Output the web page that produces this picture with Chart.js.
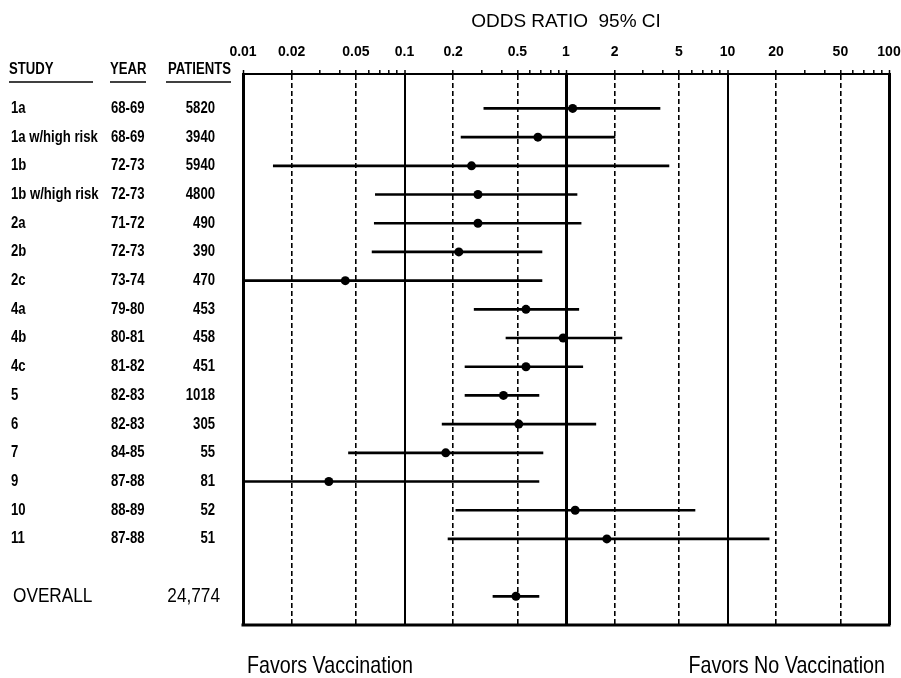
<!DOCTYPE html>
<html lang="en">
<head>
<meta charset="UTF-8">
<title>Odds ratio 95% CI</title>
<script src="https://cdn.jsdelivr.net/npm/chart.js@4.4.1/dist/chart.umd.min.js"></script>
<style>
  html, body { margin: 0; padding: 0; background: #fff; }
  #wrap { position: relative; width: 901px; height: 678px; }
</style>
</head>
<body>
<div id="wrap"><canvas id="forest"></canvas></div>
<script>
// rows of the table, top to bottom
const studies = ['1a', '1a w/high risk', '1b', '1b w/high risk', '2a', '2b', '2c', '4a', '4b', '4c', '5', '6', '7', '9', '10', '11']
const years = ['68-69', '68-69', '72-73', '72-73', '71-72', '72-73', '73-74', '79-80', '80-81', '81-82', '82-83', '82-83', '84-85', '87-88', '88-89', '87-88']
const patients = ['5820', '3940', '5940', '4800', '490', '390', '470', '453', '458', '451', '1018', '305', '55', '81', '52', '51']

// odds ratio and 95% CI
const oddsRatio = [1.10, 0.67, 0.26, 0.285, 0.285, 0.217, 0.043, 0.565, 0.96, 0.565, 0.41, 0.51, 0.18, 0.034, 1.14, 1.79]
const ciLow = [0.31, 0.224, 0.0154, 0.066, 0.065, 0.063, 0.01, 0.27, 0.425, 0.237, 0.237, 0.171, 0.045, 0.01, 0.208, 0.186]
const ciHigh = [3.82, 2.01, 4.34, 1.17, 1.24, 0.71, 0.71, 1.20, 2.22, 1.27, 0.68, 1.53, 0.72, 0.68, 6.29, 18.1]

const overallLabel = 'OVERALL'
const overallPatients = '24,774'
const overallOdds = [0.49]
const overallLow = [0.353]
const overallHigh = [0.68]

// axis ticks
const tickLabels = [0.01, 0.02, 0.05, 0.1, 0.2, 0.5, 1, 2, 5, 10, 20, 50, 100]
const minorTicks = [0.03, 0.04, 0.06, 0.07, 0.08, 0.09, 0.3, 0.4, 0.6, 0.7, 0.8, 0.9, 3, 4, 6, 7, 8, 9, 30, 40, 60, 70, 80, 90]
const solidLines = [0.1, 10]
const heavyLines = [0.01, 1, 100]

const OVERALL_ROW = studies.length + 1
const SANS = '"Liberation Sans", Arial, sans-serif'
const NARROW_X = 0.82 // no narrow face installed, so squeeze the sans one

const allTicks = tickLabels.concat(minorTicks).sort((a, b) => a - b)

const ciData = studies.map((s, i) => ({ x: [ciLow[i], ciHigh[i]], y: i }))
    .concat([{ x: [overallLow[0], overallHigh[0]], y: OVERALL_ROW }])
const orData = studies.map((s, i) => ({ x: oddsRatio[i], y: i }))
    .concat([{ x: overallOdds[0], y: OVERALL_ROW }])

function narrowText(ctx, text, x, y, align) {
    ctx.save()
    ctx.translate(x, y)
    ctx.scale(NARROW_X, 1)
    ctx.textAlign = align
    ctx.fillText(text, 0, 0)
    ctx.restore()
}

// table on the left, bottom frame line and the two footer captions
const tablePlugin = {
    id: 'table',
    afterDraw(chart) {
        const { ctx, chartArea } = chart
        const y = chart.scales.y
        ctx.save()
        ctx.fillStyle = '#000'
        ctx.strokeStyle = '#000'

        ctx.lineWidth = 3
        ctx.beginPath()
        ctx.moveTo(chartArea.left - 1.5, chartArea.bottom)
        ctx.lineTo(chartArea.right + 1.5, chartArea.bottom)
        ctx.stroke()

        ctx.textBaseline = 'middle'
        ctx.font = 'bold 16px ' + SANS
        narrowText(ctx, 'STUDY', 9, 70, 'left')
        narrowText(ctx, 'YEAR', 110, 70, 'left')
        narrowText(ctx, 'PATIENTS', 231, 70, 'right')

        const underlines = [[9, 93], [110, 146], [166, 231]]
        ctx.lineWidth = 1.5
        underlines.forEach(([a, b]) => {
            ctx.beginPath()
            ctx.moveTo(a, 82)
            ctx.lineTo(b, 82)
            ctx.stroke()
        })

        studies.forEach((name, i) => {
            const py = y.getPixelForValue(i)
            narrowText(ctx, name, 11, py, 'left')
            narrowText(ctx, years[i], 111, py, 'left')
            narrowText(ctx, patients[i], 215, py, 'right')
        })

        const oy = y.getPixelForValue(OVERALL_ROW)
        ctx.font = '21px ' + SANS
        narrowText(ctx, overallLabel, 13, oy, 'left')
        narrowText(ctx, overallPatients, 220, oy, 'right')

        ctx.font = '24px ' + SANS
        narrowText(ctx, 'Favors Vaccination', 247, 666, 'left')
        narrowText(ctx, 'Favors No Vaccination', 885, 666, 'right')
        ctx.restore()
    }
}

new Chart(document.getElementById('forest'), {
    type: 'bar',
    data: {
        datasets: [
            {
                type: 'bar',
                indexAxis: 'y',
                data: ciData,
                backgroundColor: '#000',
                borderWidth: 0,
                barThickness: 2,
                grouped: false,
                order: 2
            },
            {
                type: 'scatter',
                data: orData,
                backgroundColor: '#000',
                borderColor: '#000',
                pointRadius: 4.5,
                pointBorderWidth: 0,
                showLine: false,
                order: 1
            }
        ]
    },
    options: {
        responsive: true,
        maintainAspectRatio: false,
        animation: false,
        events: [],
        layout: { autoPadding: false, padding: { left: 243, right: 12, top: 0, bottom: 53 } },
        plugins: {
            legend: { display: false },
            tooltip: { enabled: false },
            title: {
                display: true,
                text: 'ODDS RATIO  95% CI',
                color: '#000',
                font: { family: SANS, size: 19, weight: 'normal' },
                padding: { top: 10, bottom: 2.4 }
            }
        },
        scales: {
            x: {
                type: 'logarithmic',
                position: 'top',
                min: 0.01,
                max: 100,
                offset: false,
                afterBuildTicks: (scale) => {
                    scale.ticks = allTicks.map(v => ({ value: v }))
                },
                // the end labels may hang over the frame, as in the original
                afterFit: (scale) => {
                    scale.paddingLeft = 0
                    scale.paddingRight = 0
                },
                ticks: {
                    autoSkip: false,
                    maxRotation: 0,
                    padding: 9,
                    color: '#000',
                    font: { family: SANS, size: 14, weight: 'bold' },
                    callback: (v) => tickLabels.includes(v) ? String(v) : ''
                },
                grid: {
                    offset: false,
                    color: (c) => c.tick && tickLabels.includes(c.tick.value) ? '#000' : 'rgba(0,0,0,0)',
                    lineWidth: (c) => {
                        const v = c.tick ? c.tick.value : null
                        if (heavyLines.includes(v)) return 3
                        if (solidLines.includes(v)) return 2
                        return 1.6
                    },
                    tickColor: '#000',
                    tickWidth: 1.5,
                    tickLength: 4
                },
                border: {
                    display: true,
                    color: '#000',
                    width: 2,
                    dash: (c) => {
                        const v = c.tick ? c.tick.value : null
                        if (v === null || heavyLines.includes(v) || solidLines.includes(v)) return []
                        return [5, 3]
                    }
                }
            },
            y: {
                type: 'linear',
                min: -1.2,
                max: 18,
                reverse: true,
                offset: false,
                grid: { offset: false },
                display: false
            }
        }
    },
    plugins: [tablePlugin]
})
</script>
</body>
</html>
